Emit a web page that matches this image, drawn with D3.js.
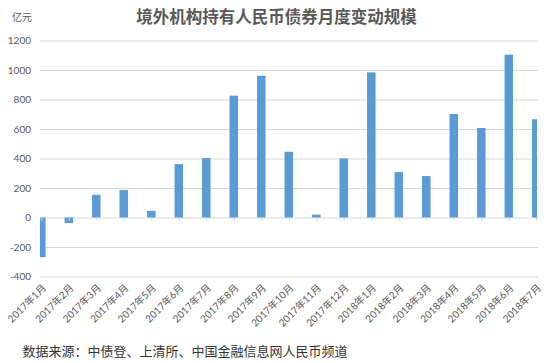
<!DOCTYPE html>
<html>
<head>
<meta charset="utf-8">
<script src="https://cdn.jsdelivr.net/npm/d3@7"></script>
<style>
  body { margin: 0; background: #fff; }
  svg { display: block; font-family: Lato, "Noto Sans CJK SC", sans-serif; }
</style>
</head>
<body>
<svg width="550" height="363"></svg>
<script>
// data (亿元)
var months = ["2017年1月", "2017年2月", "2017年3月", "2017年4月", "2017年5月", "2017年6月",
              "2017年7月", "2017年8月", "2017年9月", "2017年10月", "2017年11月", "2017年12月",
              "2018年1月", "2018年2月", "2018年3月", "2018年4月", "2018年5月", "2018年6月", "2018年7月"];
var changes = [-269, -38, 154, 186, 45, 362, 403, 826, 961, 446, 19, 401,
               984, 308, 281, 702, 607, 1104, 666];
var yTicks = [-400, -200, 0, 200, 400, 600, 800, 1000, 1200];

var svg = d3.select("svg");

// plot area
var plotLeft = 40, plotRight = 538;

var x = d3.scalePoint().domain(months).range([41.3, 536.3]),
    y = d3.scaleLinear().domain([-400, 1200]).range([276.5, 40.5]);

var barWidth = 8.5;

svg.append("clipPath").attr("id", "plotclip")
  .append("rect")
    .attr("x", plotLeft).attr("y", 30)
    .attr("width", plotRight - plotLeft - 1).attr("height", 260);

// gridlines
svg.append("g")
  .selectAll("line")
  .data(yTicks)
  .join("line")
    .attr("x1", plotLeft).attr("x2", plotRight)
    .attr("y1", function(d) { return y(d) + 0.5; })
    .attr("y2", function(d) { return y(d) + 0.5; })
    .attr("stroke", "#d9d9d9")
    .attr("stroke-width", 1);

// y labels
svg.append("g")
  .selectAll("text")
  .data(yTicks)
  .join("text")
    .attr("x", 31)
    .attr("y", function(d) { return y(d); })
    .attr("dy", "0.35em")
    .attr("text-anchor", "end")
    .style("font-size", "10px")
    .style("fill", "#595959")
    .text(function(d) { return d; });

// bars
svg.append("g")
    .attr("clip-path", "url(#plotclip)")
  .selectAll("rect")
  .data(changes)
  .join("rect")
    .attr("x", function(d, i) { return x(months[i]) - barWidth / 2; })
    .attr("y", function(d) { return y(Math.max(0, d)); })
    .attr("width", barWidth)
    .attr("height", function(d) { return Math.abs(y(d) - y(0)); })
    .attr("fill", "#5b9bd5");

// small ticks on the zero line
svg.append("g")
  .selectAll("line")
  .data(months)
  .join("line")
    .attr("x1", function(d) { return x(d) + 0.5; })
    .attr("x2", function(d) { return x(d) + 0.5; })
    .attr("y1", y(0) + 0.5)
    .attr("y2", y(0) + 3.5)
    .attr("stroke", "#d9d9d9");

// rotated month labels
svg.append("g")
  .selectAll("text")
  .data(months)
  .join("text")
    .attr("transform", function(d) { return "translate(" + (x(d) + 3) + ",286) rotate(-45)"; })
    .attr("text-anchor", "end")
    .attr("dy", "0.35em")
    .style("font-size", "10px")
    .style("fill", "#595959")
    .text(function(d) { return d; });

// title and unit
svg.append("text")
    .attr("x", 276.5)
    .attr("y", 23)
    .attr("text-anchor", "middle")
    .style("font-size", "16.5px")
    .style("font-weight", "bold")
    .style("fill", "#595959")
    .text("境外机构持有人民币债券月度变动规模");

svg.append("text")
    .attr("x", 12)
    .attr("y", 21)
    .style("font-size", "10px")
    .style("fill", "#595959")
    .text("亿元");

// source note
svg.append("text")
    .attr("x", 22.5)
    .attr("y", 356)
    .style("font-size", "13px")
    .style("fill", "#333")
    .text("数据来源：中债登、上清所、中国金融信息网人民币频道");
</script>
</body>
</html>
